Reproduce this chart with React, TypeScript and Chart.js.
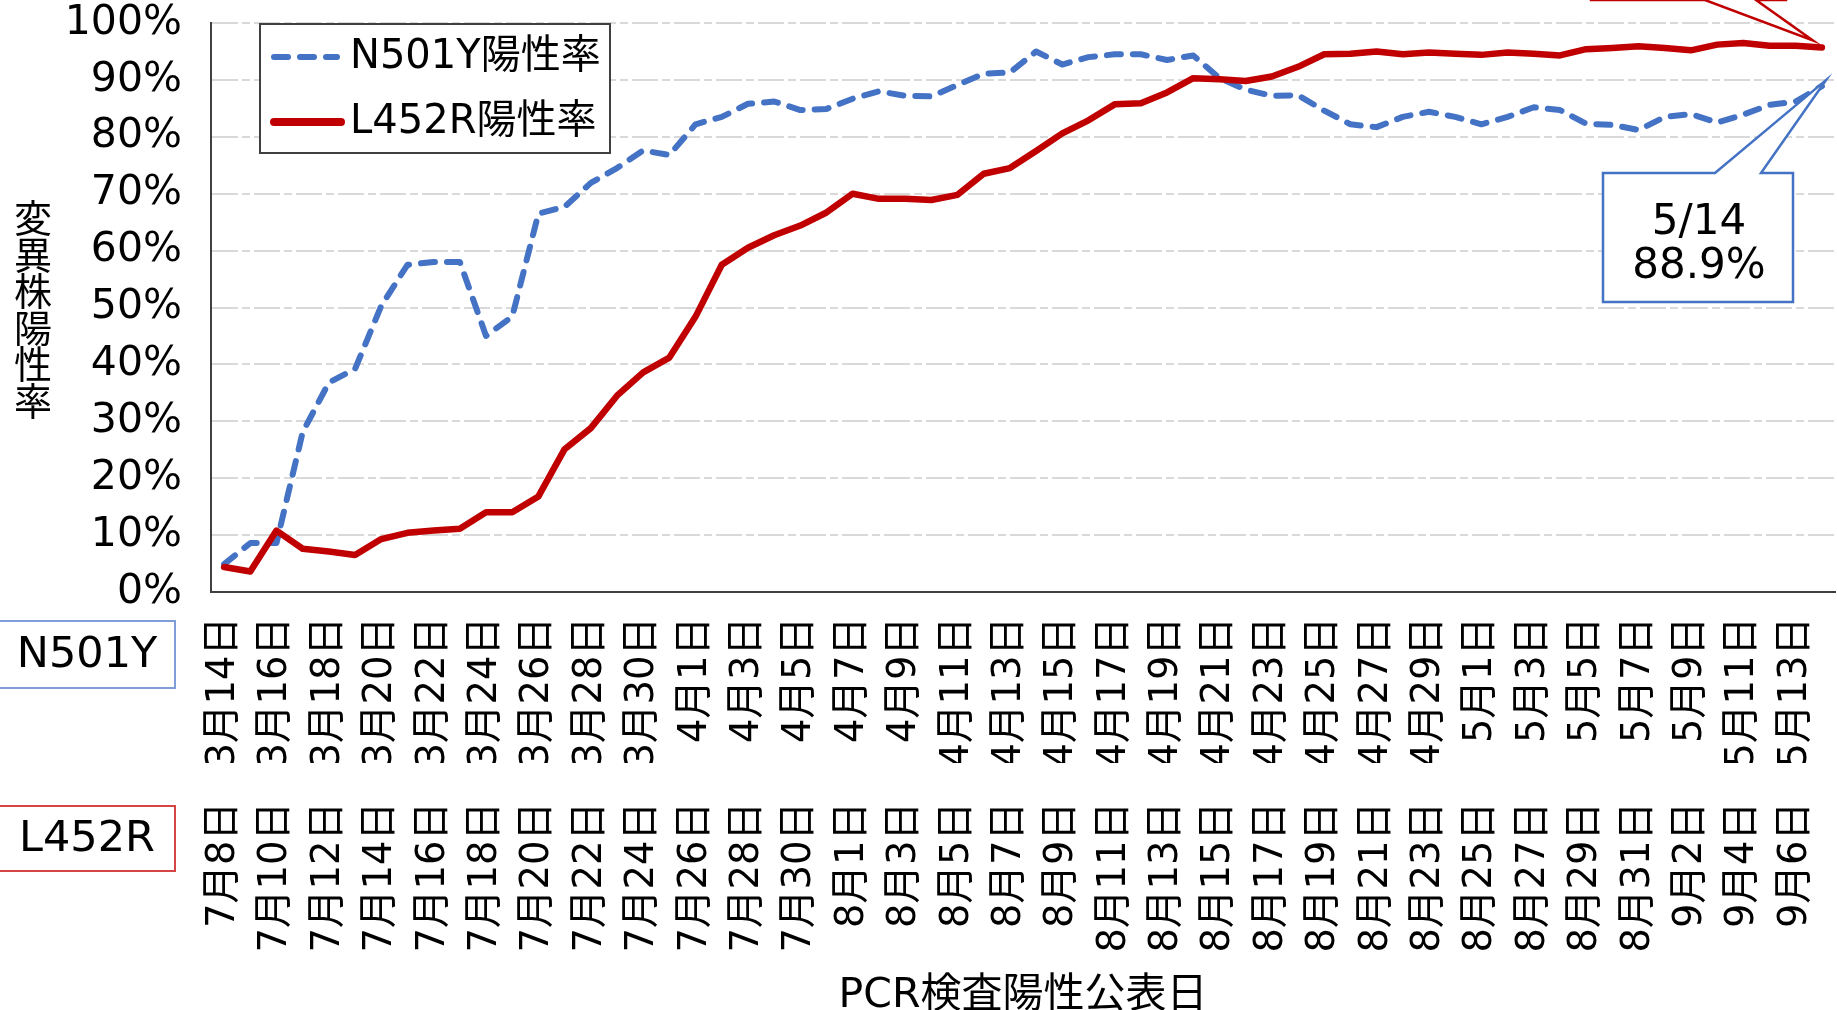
import React, { useEffect, useRef } from 'react';
import { Chart, registerables } from 'chart.js';

Chart.register(...registerables);

// N501Y: PCR検査陽性公表日 3/14 – 5/14
const n501yDates = [
  '3月14日', '3月15日', '3月16日', '3月17日', '3月18日', '3月19日', '3月20日', '3月21日', '3月22日', '3月23日',
  '3月24日', '3月25日', '3月26日', '3月27日', '3月28日', '3月29日', '3月30日', '3月31日',
  '4月1日', '4月2日', '4月3日', '4月4日', '4月5日', '4月6日', '4月7日', '4月8日', '4月9日', '4月10日',
  '4月11日', '4月12日', '4月13日', '4月14日', '4月15日', '4月16日', '4月17日', '4月18日', '4月19日', '4月20日',
  '4月21日', '4月22日', '4月23日', '4月24日', '4月25日', '4月26日', '4月27日', '4月28日', '4月29日', '4月30日',
  '5月1日', '5月2日', '5月3日', '5月4日', '5月5日', '5月6日', '5月7日', '5月8日', '5月9日', '5月10日',
  '5月11日', '5月12日', '5月13日', '5月14日',
];

// L452R: PCR検査陽性公表日 7/8 – 9/7
const l452rDates = [
  '7月8日', '7月9日', '7月10日', '7月11日', '7月12日', '7月13日', '7月14日', '7月15日', '7月16日', '7月17日',
  '7月18日', '7月19日', '7月20日', '7月21日', '7月22日', '7月23日', '7月24日', '7月25日', '7月26日', '7月27日',
  '7月28日', '7月29日', '7月30日', '7月31日',
  '8月1日', '8月2日', '8月3日', '8月4日', '8月5日', '8月6日', '8月7日', '8月8日', '8月9日', '8月10日',
  '8月11日', '8月12日', '8月13日', '8月14日', '8月15日', '8月16日', '8月17日', '8月18日', '8月19日', '8月20日',
  '8月21日', '8月22日', '8月23日', '8月24日', '8月25日', '8月26日', '8月27日', '8月28日', '8月29日', '8月30日',
  '8月31日', '9月1日', '9月2日', '9月3日', '9月4日', '9月5日', '9月6日', '9月7日',
];

// 陽性率 (%)
const n501yRate = [
  4.9, 8.6, 8.6, 28.1, 36.8, 39.2, 50.3, 57.5, 58.0, 58.0,
  45.0, 48.4, 66.5, 67.7, 71.9, 74.5, 77.6, 76.8, 82.2, 83.5,
  85.8, 86.2, 84.7, 84.9, 86.7, 88.0, 87.2, 87.1, 89.1, 91.1,
  91.3, 95.0, 92.7, 94.0, 94.5, 94.5, 93.5, 94.3, 90.3, 88.3,
  87.2, 87.3, 84.6, 82.2, 81.7, 83.5, 84.4, 83.5, 82.2, 83.5,
  85.2, 84.7, 82.3, 82.1, 81.2, 83.5, 84.0, 82.5, 83.9, 85.6,
  86.2, 88.9,
];

const l452rRate = [
  4.4, 3.6, 10.8, 7.6, 7.1, 6.5, 9.3, 10.4, 10.8, 11.1,
  14.0, 14.0, 16.8, 25.1, 28.8, 34.5, 38.6, 41.2, 48.4, 57.5,
  60.5, 62.7, 64.4, 66.7, 70.0, 69.1, 69.1, 68.9, 69.8, 73.5,
  74.5, 77.5, 80.6, 82.9, 85.7, 85.9, 87.8, 90.3, 90.1, 89.8,
  90.6, 92.3, 94.5, 94.6, 95.0, 94.5, 94.8, 94.6, 94.4, 94.8,
  94.6, 94.3, 95.4, 95.6, 95.9, 95.6, 95.2, 96.2, 96.5, 96.0,
  96.0, 95.7,
];

const seriesNames = ['N501Y陽性率', 'L452R陽性率'];
const rowNames = ['N501Y', 'L452R'];
const yTitle = '変異株陽性率';
const xTitle = 'PCR検査陽性公表日';
const calloutDate = '5/14';

const FONT = '"DejaVu Sans", "Noto Sans CJK JP", sans-serif';
const BLUE = '#4472C4';
const RED = '#C00000';

function everyOther(this: any, value: any, index: number) {
  return index % 2 === 0 ? this.getLabelForValue(value) : '';
}

const overlayPlugin = {
  id: 'overlay',
  afterDraw(chart: any) {
    const ctx: CanvasRenderingContext2D = chart.ctx;
    const xs = chart.scales.x;
    const ys = chart.scales.y;
    ctx.save();

    // y axis title, upright stacked characters
    ctx.fillStyle = '#000';
    ctx.textAlign = 'center';
    ctx.textBaseline = 'middle';
    ctx.font = `38px "Noto Sans CJK JP"`;
    yTitle.split('').forEach((ch, i) => ctx.fillText(ch, 33, 218 + i * 36.5));

    // legend box
    ctx.fillStyle = '#fff';
    ctx.fillRect(260, 24, 350, 129);
    ctx.strokeStyle = '#404040';
    ctx.lineWidth = 2;
    ctx.strokeRect(260, 24, 350, 129);
    const rowsY = [57, 122];
    chart.data.datasets.forEach((ds: any, i: number) => {
      const y = rowsY[i];
      ctx.save();
      ctx.strokeStyle = ds.borderColor;
      ctx.lineWidth = ds.borderDash ? ds.borderWidth : ds.borderWidth + 1.5;
      ctx.lineCap = 'round';
      ctx.setLineDash(ds.borderDash || []);
      ctx.beginPath();
      ctx.moveTo(274, y);
      ctx.lineTo(ds.borderDash ? 337 : 341, y);
      ctx.stroke();
      ctx.restore();
      ctx.fillStyle = '#000';
      ctx.textAlign = 'left';
      ctx.textBaseline = 'middle';
      ctx.font = `40px ${FONT}`;
      ctx.fillText(ds.label, 350, y + 1);
    });

    // row name boxes under the axis
    const boxes = [
      { y0: 621, y1: 688, color: '#7F9ED8', text: rowNames[0] },
      { y0: 806, y1: 871, color: '#D64545', text: rowNames[1] },
    ];
    boxes.forEach((b) => {
      ctx.strokeStyle = b.color;
      ctx.lineWidth = 2;
      ctx.strokeRect(-2, b.y0, 177, b.y1 - b.y0);
      ctx.fillStyle = '#000';
      ctx.font = `43px ${FONT}`;
      ctx.textAlign = 'center';
      ctx.textBaseline = 'middle';
      ctx.fillText(b.text, 87, (b.y0 + b.y1) / 2 + 1);
    });

    const last = n501yRate.length - 1;
    // red callout (cut off at top)
    const rTipX = xs.getPixelForValue(last) - 9;
    const rTipY = ys.getPixelForValue(l452rRate[last]) - 7;
    ctx.beginPath();
    ctx.moveTo(1591, -300);
    ctx.lineTo(1591, 0);
    ctx.lineTo(1705, 0);
    ctx.lineTo(rTipX, rTipY);
    ctx.lineTo(1756, 0);
    ctx.lineTo(1786, 0);
    ctx.lineTo(1786, -300);
    ctx.closePath();
    ctx.fillStyle = '#fff';
    ctx.fill();
    ctx.strokeStyle = RED;
    ctx.lineWidth = 2.5;
    ctx.lineJoin = 'miter';
    ctx.stroke();

    // blue callout
    const bTipX = xs.getPixelForValue(last) + 4;
    const bTipY = ys.getPixelForValue(n501yRate[last]) - 6;
    ctx.beginPath();
    ctx.moveTo(1603, 302);
    ctx.lineTo(1603, 173);
    ctx.lineTo(1715, 173);
    ctx.lineTo(bTipX, bTipY);
    ctx.lineTo(1761, 173);
    ctx.lineTo(1793, 173);
    ctx.lineTo(1793, 302);
    ctx.closePath();
    ctx.fillStyle = '#fff';
    ctx.fill();
    ctx.strokeStyle = BLUE;
    ctx.lineWidth = 2.5;
    ctx.stroke();
    ctx.fillStyle = '#000';
    ctx.font = `42px ${FONT}`;
    ctx.textAlign = 'center';
    ctx.textBaseline = 'middle';
    ctx.fillText(calloutDate, 1699, 223);
    ctx.fillText(`${n501yRate[last].toFixed(1)}%`, 1699, 267);

    ctx.restore();
  },
};

export default function App() {
  const ref = useRef<HTMLCanvasElement | null>(null);

  useEffect(() => {
    const canvas = ref.current;
    if (!canvas) return;
    Chart.defaults.font.family = FONT;
    Chart.defaults.color = '#000';
    const chart = new Chart(canvas, {
      type: 'line',
      data: {
        labels: n501yDates,
        datasets: [
          {
            label: seriesNames[0],
            data: n501yRate,
            borderColor: BLUE,
            backgroundColor: BLUE,
            borderWidth: 6,
            borderDash: [14, 12],
            borderCapStyle: 'round',
            borderJoinStyle: 'round',
            pointRadius: 0,
            tension: 0,
            order: 1,
            xAxisID: 'x',
            yAxisID: 'y',
          },
          {
            label: seriesNames[1],
            data: l452rRate,
            borderColor: RED,
            backgroundColor: RED,
            borderWidth: 6.5,
            borderJoinStyle: 'round',
            borderCapStyle: 'round',
            pointRadius: 0,
            tension: 0,
            order: 0,
            xAxisID: 'x',
            yAxisID: 'y',
          },
        ],
      },
      options: {
        animation: false,
        responsive: false,
        layout: { padding: { top: 23, right: 2, left: 0, bottom: 0 } },
        plugins: { legend: { display: false }, tooltip: { enabled: false } },
        scales: {
          x: {
            type: 'category',
            axis: 'x',
            position: 'bottom',
            offset: true,
            grid: { display: false, drawTicks: false },
            border: { display: true, color: '#404040', width: 2 },
            ticks: {
              autoSkip: false,
              minRotation: 90,
              maxRotation: 90,
              padding: 25,
              color: '#000',
              font: { size: 38.5, family: FONT },
              callback: everyOther,
            },
            afterFit: (s: any) => {
              s.height = 171;
              s.paddingLeft = 0;
              s.paddingRight = 0;
            },
          },
          x2: {
            type: 'category',
            axis: 'x',
            position: 'bottom',
            labels: l452rDates,
            offset: true,
            grid: { display: false, drawTicks: false },
            border: { display: false },
            ticks: {
              autoSkip: false,
              minRotation: 90,
              maxRotation: 90,
              padding: 39,
              color: '#000',
              font: { size: 38.5, family: FONT },
              callback: everyOther,
            },
            title: {
              display: true,
              text: xTitle,
              color: '#000',
              font: { size: 41, family: FONT },
              padding: { top: 0, bottom: 19 },
            },
            afterFit: (s: any) => {
              s.height = 277;
              s.paddingLeft = 0;
              s.paddingRight = 0;
            },
          },
          y: {
            min: 0,
            max: 100,
            position: 'left',
            ticks: {
              stepSize: 10,
              padding: 29,
              color: '#000',
              font: { size: 41, family: FONT },
              callback: (v: any) => `${v}%`,
            },
            grid: {
              drawTicks: false,
              lineWidth: 2,
              color: (c: any) => (c.tick && c.tick.value === 0 ? 'rgba(0,0,0,0)' : '#D9D9D9'),
            },
            border: { display: true, color: '#404040', width: 2, dash: [26, 4, 8, 4] },
            afterFit: (s: any) => {
              s.width = 211;
              s.paddingTop = 0;
              s.paddingBottom = 0;
            },
          },
        },
      },
      plugins: [overlayPlugin],
    } as any);
    return () => chart.destroy();
  }, []);

  return (
    <div
      style={{
        position: 'fixed',
        left: 0,
        top: 0,
        width: 1837,
        height: 1010,
        overflow: 'hidden',
        background: '#fff',
      }}
    >
      <canvas ref={ref} width={1837} height={1040} style={{ display: 'block', width: 1837, height: 1040 }} />
    </div>
  );
}
